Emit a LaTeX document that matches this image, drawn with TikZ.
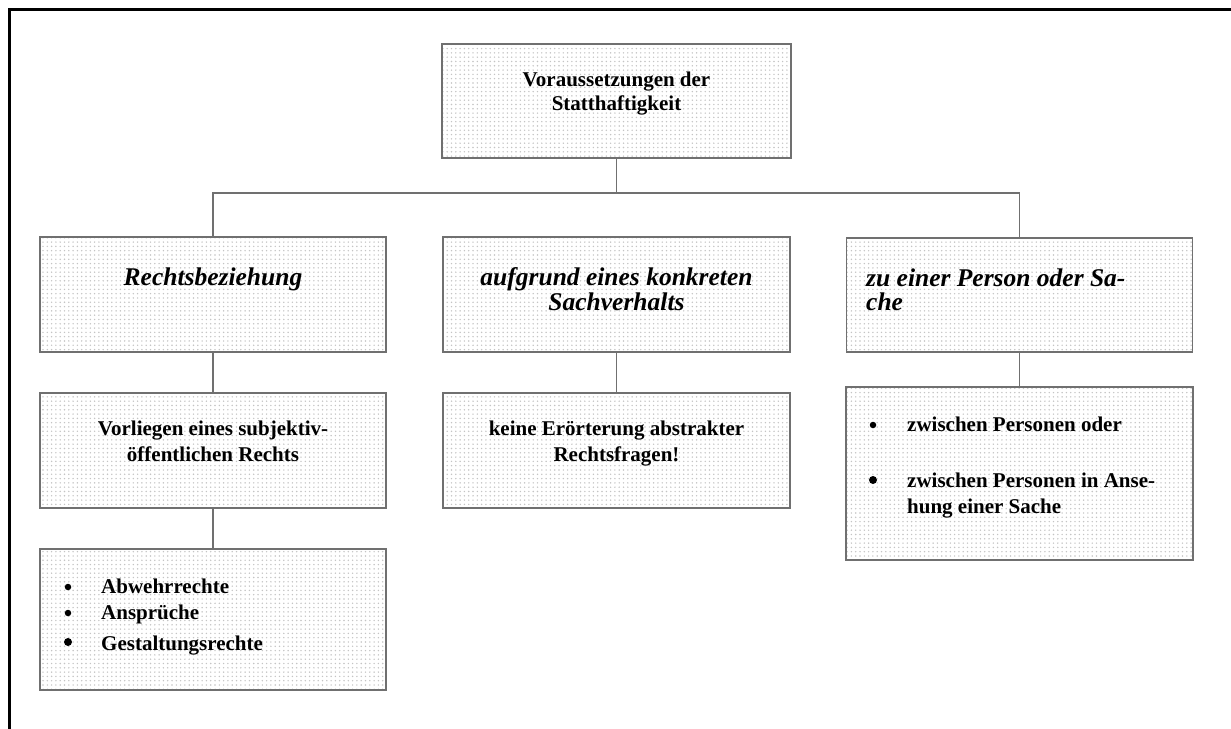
\documentclass[tikz,border=0pt]{standalone}
\usepackage{fontspec}
\setmainfont{Liberation Serif}
\usetikzlibrary{patterns.meta}
\definecolor{boxline}{HTML}{707070}
\definecolor{dotcol}{HTML}{C4C4C4}
\tikzset{
  box/.style={draw=boxline, line width=1.5pt, rectangle, inner sep=0pt,
    preaction={fill=white},
    pattern={Dots[distance=4.3pt, radius=0.8pt]}, pattern color=dotcol},
  conn/.style={draw=boxline, line width=1.5pt},
  txt/.style={anchor=base, inner sep=0pt, font=\fontsize{21}{24}\selectfont\bfseries},
  txtl/.style={anchor=base west, inner sep=0pt, font=\fontsize{21}{24}\selectfont\bfseries},
  itx/.style={anchor=base, inner sep=0pt, font=\fontsize{25.5}{28}\selectfont\bfseries\itshape},
  itxl/.style={anchor=base west, inner sep=0pt, font=\fontsize{25.5}{28}\selectfont\bfseries\itshape},
  bul/.style={circle, fill=black, inner sep=0pt, minimum size=6.5pt},
  bulb/.style={circle, fill=black, inner sep=0pt, minimum size=8pt}
}
\begin{document}
\begin{tikzpicture}[x=1pt,y=-1pt]
\useasboundingbox (0,0) rectangle (1231,728);
% outer frame (cut off at right and bottom)
\draw[line width=2.2pt, black] (9.5,740) -- (9.5,9.5) -- (1240,9.5);

% boxes
\node[box, minimum width=349pt, minimum height=114pt] (top) at (616.5,101) {};
\node[box, minimum width=346pt, minimum height=115pt] (r2a) at (213,294.5) {};
\node[box, minimum width=347pt, minimum height=115pt] (r2b) at (616.5,294.5) {};
\node[box, minimum width=346pt, minimum height=114pt] (r2c) at (1019.5,295) {};
\node[box, minimum width=346pt, minimum height=115pt] (r3a) at (213,450.5) {};
\node[box, minimum width=347pt, minimum height=115pt] (r3b) at (616.5,450.5) {};
\node[box, minimum width=347pt, minimum height=173pt] (r3c) at (1019.5,473.5) {};
\node[box, minimum width=346pt, minimum height=141pt] (r4a) at (213,619.5) {};

% connectors
\coordinate (bus) at (616.5,193);
\draw[conn] (top.south) -- (bus);
\draw[conn] (r2a.north) |- (bus) -| (r2c.north);
\draw[conn] (r2a.south) -- (r3a.north);
\draw[conn] (r2b.south) -- (r3b.north);
\draw[conn] (r2c.south) -- (r3c.north);
\draw[conn] (r3a.south) -- (r4a.north);

% texts
\node[txt] (t1a) at (616.5,86) {Voraussetzungen der};
\node[txt] (t1b) at (616.5,110) {Statthaftigkeit};

\node[itx] (t2a) at (213,285) {Rechtsbeziehung};
\node[itx] (t2b1) at (616.5,285) {aufgrund eines konkreten};
\node[itx] (t2b2) at (616.5,310) {Sachverhalts};
\node[itxl] (t2c1) at (866,286) {zu einer Person oder Sa-};
\node[itxl] (t2c2) at (866,310) {che};

\node[txt] (t3a1) at (213,435) {Vorliegen eines subjektiv-};
\node[txt] (t3a2) at (213,461) {öffentlichen Rechts};
\node[txt] (t3b1) at (616.5,435) {keine Erörterung abstrakter};
\node[txt] (t3b2) at (616.5,461) {Rechtsfragen!};

\node[bul] (b31) at (873,425) {};
\node[txtl] (t3c1) at (907,431) {zwischen Personen oder};
\node[bulb] (b32) at (873,480) {};
\node[txtl] (t3c2) at (907,487) {zwischen Personen in Anse-};
\node[txtl] (t3c3) at (907,513) {hung einer Sache};

\node[bul] (b41) at (68,587) {};
\node[txtl] (t4a1) at (101,593) {Abwehrrechte};
\node[bul] (b42) at (68,613) {};
\node[txtl] (t4a2) at (101,619) {Ansprüche};
\node[bulb] (b43) at (68,642) {};
\node[txtl] (t4a3) at (101,650) {Gestaltungsrechte};
\end{tikzpicture}
\end{document}
